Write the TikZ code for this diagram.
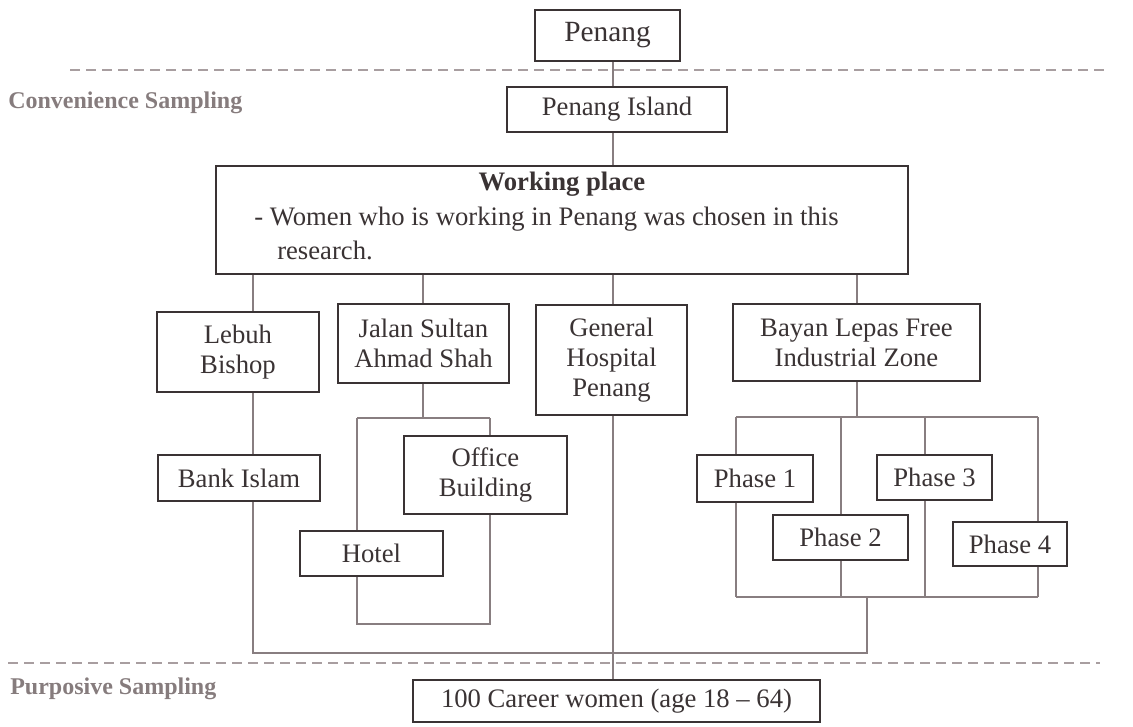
\documentclass[tikz,border=0pt]{standalone}
\usepackage{fontspec}
\setmainfont{Liberation Serif}
\definecolor{txt}{HTML}{3A3334}
\definecolor{boxc}{HTML}{3A3334}
\definecolor{linec}{HTML}{887E80}
\definecolor{dashc}{HTML}{A89EA0}
\definecolor{labc}{HTML}{867C7D}
\begin{document}
\begin{tikzpicture}[x=0.75pt,y=-0.75pt,
  box/.style={draw=boxc, line width=1.9pt, fill=white, inner sep=0pt, align=center, text=txt,
    font=\fontsize{20}{22.5}\selectfont},
  sz/.style 2 args={minimum width=#1pt, minimum height=#2pt},
  conn/.style={draw=linec, line width=1.35pt},
  sepline/.style={draw=dashc, line width=2.2pt, dash pattern=on 7.5pt off 4.5pt},
  lab/.style={text=labc, font=\fontsize{18}{20}\selectfont\bfseries, anchor=west, inner sep=0pt},
  wptext/.style={text=txt, inner sep=0pt, font=\fontsize{20}{22.5}\selectfont}]
\useasboundingbox (0,0) rectangle (1133,726);

% separator lines
\coordinate (s1a) at (70,70);
\coordinate (s1b) at (1105,70);
\coordinate (s2a) at (8,663);
\coordinate (s2b) at (1100,663);
\draw[sepline] (s1a) -- (s1b);
\draw[sepline] (s2a) -- (s2b);

% labels
\node[lab] (conv) at (8,103) {Convenience Sampling};
\node[lab] (purp) at (10,689) {Purposive Sampling};

% boxes
\node[box, sz={108.75}{38.25}, font=\fontsize{22}{24}\selectfont] (penang) at (607.5,35.5) {Penang};
\node[box, sz={165}{33.75}] (island) at (617,109.5) {Penang Island};
\node[box, sz={519}{81}] (wp) at (562,220) {};
\node[wptext, font=\fontsize{20}{22.5}\selectfont\bfseries] (wpt1) at (562,184) {Working place};
\node[wptext, anchor=west] (wpt2) at (254,219) {- Women who is working in Penang was chosen in this};
\node[wptext, anchor=west] (wpt3) at (277,250) {research.};

\node[box, sz={121.5}{60}] (lebuh) at (238,352) {Lebuh\\Bishop};
\node[box, sz={128.25}{59.25}] (jalan) at (423.5,343.5) {Jalan Sultan\\Ahmad Shah};
\node[box, sz={113.25}{82.5}] (general) at (611.5,360) {General\\Hospital\\Penang};
\node[box, sz={185.25}{57.75}] (bayan) at (856.5,342.5) {Bayan Lepas Free\\Industrial Zone};

\node[box, sz={121.5}{34.5}] (bank) at (239,478) {Bank Islam};
\node[box, sz={122.25}{58.5}] (office) at (485.5,475) {Office\\Building};
\node[box, sz={107.25}{33.75}] (hotel) at (371.5,553.5) {Hotel};

\node[box, sz={87}{35.25}] (p1) at (755,478.5) {Phase 1};
\node[box, sz={101.25}{33.75}] (p2) at (840.5,537.5) {Phase 2};
\node[box, sz={86.25}{33.75}] (p3) at (934.5,477.5) {Phase 3};
\node[box, sz={85.5}{33}] (p4) at (1010,544) {Phase 4};

\node[box, sz={305.25}{31.5}] (career) at (616.5,701) {100 Career women (age 18 -- 64)};

% junction coordinates
\coordinate (xa) at (613,0);
\coordinate (xl) at (253,0);
\coordinate (xj) at (423,0);
\coordinate (xg) at (613,0);
\coordinate (xb) at (857,0);
\coordinate (jj) at (423,418);
\coordinate (jh) at (357,418);
\coordinate (jo) at (490,418);
\coordinate (hb) at (357,624);
\coordinate (ob) at (490,624);
\coordinate (bb) at (857,417);
\coordinate (b1) at (736,417);
\coordinate (b2) at (841,417);
\coordinate (b3) at (925,417);
\coordinate (b4) at (1038,417);
\coordinate (d1) at (736,597);
\coordinate (d2) at (841,597);
\coordinate (d3) at (925,597);
\coordinate (d4) at (1038,597);
\coordinate (dm) at (867,597);
\coordinate (dl) at (867,653);
\coordinate (ll) at (253,653);

% connectors
\draw[conn] (penang.south -| xa) -- (island.north -| xa);
\draw[conn] (island.south -| xa) -- (wp.north -| xa);
\draw[conn] (wp.south -| xl) -- (lebuh.north -| xl);
\draw[conn] (wp.south -| xj) -- (jalan.north -| xj);
\draw[conn] (wp.south -| xg) -- (general.north -| xg);
\draw[conn] (wp.south -| xb) -- (bayan.north -| xb);

\draw[conn] (lebuh.south -| xl) -- (bank.north -| xl);
\draw[conn] (bank.south -| xl) -- (ll) -- (dl) -- (dm);

\draw[conn] (jalan.south -| xj) -- (jj);
\draw[conn] (jh) -- (jo);
\draw[conn] (jh) -- (hotel.north -| jh);
\draw[conn] (jo) -- (office.north -| jo);
\draw[conn] (hotel.south -| jh) -- (hb) -- (ob) -- (office.south -| jo);

\draw[conn] (general.south -| xg) -- (career.north -| xg);

\draw[conn] (bayan.south -| xb) -- (bb);
\draw[conn] (b1) -- (b4);
\draw[conn] (b1) -- (p1.north -| b1);
\draw[conn] (b2) -- (p2.north -| b2);
\draw[conn] (b3) -- (p3.north -| b3);
\draw[conn] (b4) -- (p4.north -| b4);
\draw[conn] (d1) -- (d4);
\draw[conn] (p1.south -| d1) -- (d1);
\draw[conn] (p2.south -| d2) -- (d2);
\draw[conn] (p3.south -| d3) -- (d3);
\draw[conn] (p4.south -| d4) -- (d4);
\end{tikzpicture}
\end{document}
